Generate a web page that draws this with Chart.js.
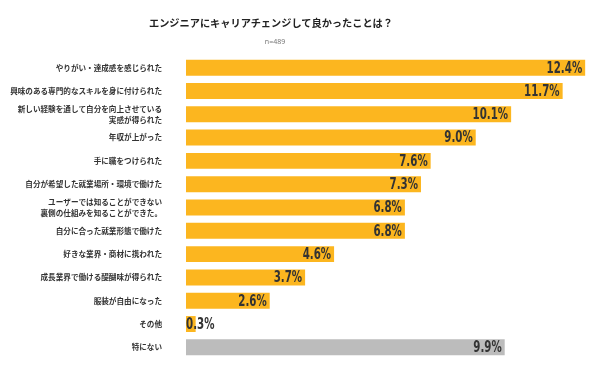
<!DOCTYPE html>
<html>
<head>
<meta charset="utf-8">
<script src="https://cdn.jsdelivr.net/npm/chart.js@4/dist/chart.umd.min.js"></script>
<style>
  body { margin: 0; background: #fff; }
  #wrap { position: relative; width: 590px; height: 365px; }
  #chart { display: block; }
  #title { position: absolute; top: 15px; left: 0; width: 542px; text-align: center;
           font: bold 10.2px "Noto Sans CJK JP", sans-serif; color: #222; }
  #sub { position: absolute; top: 37px; left: 0; width: 550px; text-align: center;
         font: 7px "Noto Sans", sans-serif; color: #777; }
</style>
</head>
<body>
<div id="wrap">
  <canvas id="chart" width="590" height="365"></canvas>
  <div id="title">エンジニアにキャリアチェンジして良かったことは？</div>
  <div id="sub">n=489</div>
</div>
<script>
  // 回答項目
  const labels = [
    'やりがい・達成感を感じられた',
    '興味のある専門的なスキルを身に付けられた',
    ['新しい経験を通して自分を向上させている', '実感が得られた'],
    '年収が上がった',
    '手に職をつけられた',
    '自分が希望した就業場所・環境で働けた',
    ['ユーザーでは知ることができない', '裏側の仕組みを知ることができた。'],
    '自分に合った就業形態で働けた',
    '好きな業界・商材に携われた',
    '成長業界で働ける醍醐味が得られた',
    '服装が自由になった',
    'その他',
    '特にない'
  ];
  const values = [12.4, 11.7, 10.1, 9.0, 7.6, 7.3, 6.8, 6.8, 4.6, 3.7, 2.6, 0.3, 9.9];

  const yellow = '#FCB61F';
  const gray = '#BCBCBC';

  // バーの右端に値を描く（縦長の数字フォントに寄せるため横方向を詰める）
  const valueLabels = {
    id: 'valueLabels',
    afterDatasetsDraw(chart) {
      const ctx = chart.ctx;
      const meta = chart.getDatasetMeta(0);
      const sx = 0.76;
      ctx.save();
      ctx.font = 'bold 15px "Liberation Sans Narrow", "DejaVu Sans Condensed", sans-serif';
      ctx.fillStyle = '#333';
      ctx.textBaseline = 'middle';
      meta.data.forEach((bar, i) => {
        const txt = values[i].toFixed(1) + '%';
        const w = ctx.measureText(txt).width * sx;
        let x;
        if (w + 6 < bar.x - bar.base) {
          x = bar.x - 3 - w;
        } else {
          x = bar.base;
        }
        ctx.save();
        ctx.translate(x, bar.y + 1);
        ctx.scale(sx, 1);
        ctx.textAlign = 'left';
        ctx.fillText(txt, 0, 0);
        ctx.restore();
      });
      ctx.restore();
    }
  };

  new Chart(document.getElementById('chart'), {
    type: 'bar',
    data: {
      labels: labels,
      datasets: [{
        data: values,
        backgroundColor: values.map((v, i) => i === values.length - 1 ? gray : yellow),
        barPercentage: 0.9,
        categoryPercentage: 0.76
      }]
    },
    options: {
      indexAxis: 'y',
      responsive: false,
      animation: false,
      layout: { padding: { top: 56, bottom: 6, right: 0, left: 0 } },
      plugins: {
        legend: { display: false },
        tooltip: { enabled: false }
      },
      scales: {
        x: { display: false, min: 0, max: 12.55 },
        y: {
          afterFit: (scale) => {
            scale.width = 186;
            scale.paddingTop = 0;
            scale.paddingBottom = 0;
          },
          grid: { display: false, drawTicks: false },
          border: { display: false },
          ticks: {
            autoSkip: false,
            padding: 24,
            color: '#333',
            font: { family: '"Noto Sans CJK JP", sans-serif', size: 7.6, weight: 'bold', lineHeight: 1.45 }
          }
        }
      }
    },
    plugins: [valueLabels]
  });
</script>
</body>
</html>
